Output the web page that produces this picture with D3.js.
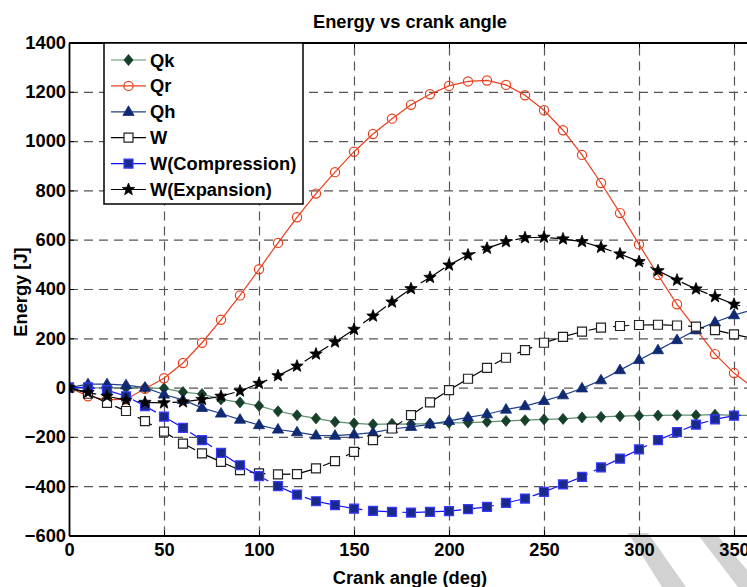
<!DOCTYPE html>
<html>
<head>
<meta charset="utf-8">
<script src="https://cdn.jsdelivr.net/npm/d3@7"></script>
<style>
  body { margin: 0; background: #fff; }
  svg { display: block; font-family: "Liberation Sans", Arial, sans-serif; font-weight: bold; }
  .axis text { font-size: 18.3px; font-weight: bold; fill: #000; }
  .grid line { stroke: #555; stroke-dasharray: 9,6; stroke-width: 1.2; }
  .grid .domain { display: none; }
</style>
</head>
<body>
<svg id="chart"></svg>
<script>
// Crank angle samples (deg)
const angles = [0, 10, 20, 30, 40, 50, 60, 70, 80, 90, 100, 110, 120, 130, 140, 150, 160, 170, 180,
  190, 200, 210, 220, 230, 240, 250, 260, 270, 280, 290, 300, 310, 320, 330, 340, 350, 360];

// Energy values [J]
const qk = [0, -2, 0, -1, -1, -3, -18, -26, -48, -60, -74, -96, -112, -125, -139, -145, -149, -147, -148,
  -146, -143, -142, -139, -135, -132, -129, -127, -121, -119, -116, -114, -113, -112, -112, -110, -113, -112];
const qr = [0, -35, -50, -47, -5, 38, 100, 182, 275, 374, 480, 587, 691, 787, 874, 957, 1029, 1091, 1147,
  1190, 1224, 1242, 1246, 1228, 1186, 1125, 1044, 944, 830, 708, 581, 457, 338, 237, 136, 59, 0];
const qh = [0, 14, 14, 10, 0, -28, -50, -82, -105, -130, -152, -170, -181, -194, -195, -190, -183, -168, -159,
  -149, -135, -121, -108, -89, -75, -54, -31, -3, 30, 71, 112, 152, 193, 233, 265, 294, 316];
const w = [0, -25, -62, -95, -136, -179, -227, -267, -301, -335, -348, -352, -351, -328, -298, -261, -213, -166, -112,
  -60, -10, 36, 80, 121, 152, 182, 206, 227, 243, 250, 254, 255, 252, 247, 233, 216, 200];
const wComp = [0, 1, -10, -35, -75, -118, -163, -213, -265, -315, -359, -400, -434, -461, -477, -491, -500, -504, -507,
  -504, -501, -493, -484, -468, -450, -423, -393, -362, -324, -288, -251, -213, -181, -150, -129, -114, -110];
const wExp = [0, -20, -35, -51, -60, -62, -58, -48, -35, -14, 17, 48, 87, 136, 185, 236, 290, 347, 401,
  447, 497, 538, 565, 592, 608, 610, 603, 592, 569, 542, 511, 474, 436, 400, 369, 338, 320];

const xTicks = [0, 50, 100, 150, 200, 250, 300, 350];
const yTicks = [-600, -400, -200, 0, 200, 400, 600, 800, 1000, 1200, 1400];

const series = [
  {name: "Qk", values: qk, line: "#5f8f70", marker: "diamond", fill: "#16402a", stroke: "#16402a", dash: null},
  {name: "Qr", values: qr, line: "#e8401c", marker: "circle", fill: "none", stroke: "#e8401c", dash: null},
  {name: "Qh", values: qh, line: "#20408a", marker: "triangle", fill: "#0f2a72", stroke: "#0f2a72", dash: null},
  {name: "W", values: w, line: "#000", marker: "square", fill: "#fff", stroke: "#222", dash: "16,9"},
  {name: "W(Compression)", values: wComp, line: "#1010ff", marker: "square", fill: "#1a2a8c", stroke: "#3a3aff", dash: "26,7"},
  {name: "W(Expansion)", values: wExp, line: "#000", marker: "star", fill: "#000", stroke: "#000", dash: "28,7"}
];

const width = 747, height = 587;
const margin = {top: 42.5, left: 69, plotRight: 753, bottom: 535.5};

const svg = d3.select("#chart")
    .attr("width", width)
    .attr("height", height);

const x = d3.scaleLinear().domain([0, 360]).range([margin.left, margin.plotRight]);
const y = d3.scaleLinear().domain([-600, 1400]).range([margin.bottom, margin.top]);
const plotW = margin.plotRight - margin.left;
const plotH = margin.bottom - margin.top;

// Marker path builder (shape only, centred on 0,0)
function markerPath(type) {
  if (type === "diamond") return "M0,-5.5L4.6,0L0,5.5L-4.6,0Z";
  if (type === "triangle") return "M0,-6L5.6,3.6L-5.6,3.6Z";
  if (type === "square") return "M-4.5,-4.5H4.5V4.5H-4.5Z";
  if (type === "star") {
    let p = [];
    for (let i = 0; i < 10; i++) {
      const r = i % 2 === 0 ? 6.5 : 2.7;
      const a = -Math.PI / 2 + i * Math.PI / 5;
      p.push([r * Math.cos(a), r * Math.sin(a)]);
    }
    return "M" + p.map(d => d.join(",")).join("L") + "Z";
  }
  return null;
}

function drawMarker(g, s) {
  if (s.marker === "circle") {
    g.append("circle").attr("r", 4.6)
        .attr("fill", s.fill).attr("stroke", s.stroke).attr("stroke-width", 1.2);
  } else {
    g.append("path").attr("d", markerPath(s.marker))
        .attr("fill", s.fill).attr("stroke", s.stroke)
        .attr("stroke-width", s.marker === "square" ? 1.2 : 0.8);
  }
}

// Faint watermark strokes in the bottom-right corner (behind everything)
svg.append("path")
    .attr("d", "M628,533L648,533L686,587L662,587Z")
    .attr("fill", "#d2d2d2");
svg.append("path")
    .attr("d", "M698,535L717,535L762,587L738,587Z")
    .attr("fill", "#d2d2d2");

// Grid lines
svg.append("g")
    .attr("class", "grid")
    .attr("transform", `translate(0,${margin.bottom})`)
    .call(d3.axisBottom(x).tickValues(xTicks.filter(d => d > 0)).tickSize(-plotH).tickFormat(""));
svg.append("g")
    .attr("class", "grid")
    .attr("transform", `translate(${margin.left},0)`)
    .call(d3.axisLeft(y).tickValues(yTicks.filter(d => d > -600 && d < 1400)).tickSize(-plotW).tickFormat(""));

// Series lines and markers
svg.append("clipPath").attr("id", "plot-clip")
  .append("rect").attr("x", margin.left).attr("y", margin.top - 8)
    .attr("width", plotW).attr("height", plotH + 16);

const marks = svg.append("g").attr("clip-path", "url(#plot-clip)");

series.forEach(s => {
  const pts = angles.map((a, i) => ({a, v: s.values[i]}));
  const line = d3.line().x(d => x(d.a)).y(d => y(d.v));
  marks.append("path")
      .datum(pts)
      .attr("fill", "none")
      .attr("stroke", s.line)
      .attr("stroke-width", 1.2)
      .attr("stroke-dasharray", s.dash)
      .attr("d", line);
  marks.selectAll(null)
      .data(pts)
    .join("g")
      .attr("transform", d => `translate(${x(d.a)},${y(d.v)})`)
      .each(function() { drawMarker(d3.select(this), s); });
});

// Axes (ticks point inwards)
svg.append("g")
    .attr("class", "axis")
    .attr("transform", `translate(0,${margin.bottom})`)
    .call(d3.axisBottom(x).tickValues(xTicks).tickFormat(d3.format("d"))
      .tickSize(-5).tickPadding(7.5).tickSizeOuter(0));
svg.append("g")
    .attr("class", "axis")
    .attr("transform", `translate(${margin.left},0)`)
    .call(d3.axisLeft(y).tickValues(yTicks).tickFormat(d3.format("d"))
      .tickSize(-5).tickPadding(3).tickSizeOuter(0));
svg.append("g")
    .attr("class", "axis")
    .attr("transform", `translate(0,${margin.top})`)
    .call(d3.axisTop(x).tickValues(xTicks).tickSize(-5).tickFormat("").tickSizeOuter(0));
svg.selectAll(".axis .domain").attr("stroke", "#000").attr("stroke-width", 1.8);
svg.selectAll(".axis line").attr("stroke", "#000");

// Titles
svg.append("text")
    .attr("x", 410).attr("y", 28)
    .attr("text-anchor", "middle")
    .attr("font-size", 18.3)
    .text("Energy vs crank angle");
svg.append("text")
    .attr("x", 410).attr("y", 584)
    .attr("text-anchor", "middle")
    .attr("font-size", 18.3)
    .text("Crank angle (deg)");
svg.append("text")
    .attr("transform", "translate(26.5,292) rotate(-90)")
    .attr("text-anchor", "middle")
    .attr("font-size", 18.3)
    .text("Energy [J]");

// Legend
const legend = svg.append("g");
legend.append("rect")
    .attr("x", 104).attr("y", 43)
    .attr("width", 199).attr("height", 161)
    .attr("fill", "#fff").attr("stroke", "#000").attr("stroke-width", 1.5);
series.forEach((s, i) => {
  const ly = 60 + i * 25.9;
  const row = legend.append("g").attr("transform", `translate(0,${ly})`);
  row.append("line")
      .attr("x1", 111).attr("x2", 146)
      .attr("stroke", s.line).attr("stroke-width", 1.2);
  drawMarker(row.append("g").attr("transform", "translate(128.5,0)"), s);
  row.append("text")
      .attr("x", 150).attr("dy", "0.36em")
      .attr("font-size", 18.3)
      .text(s.name);
});
</script>
</body>
</html>
